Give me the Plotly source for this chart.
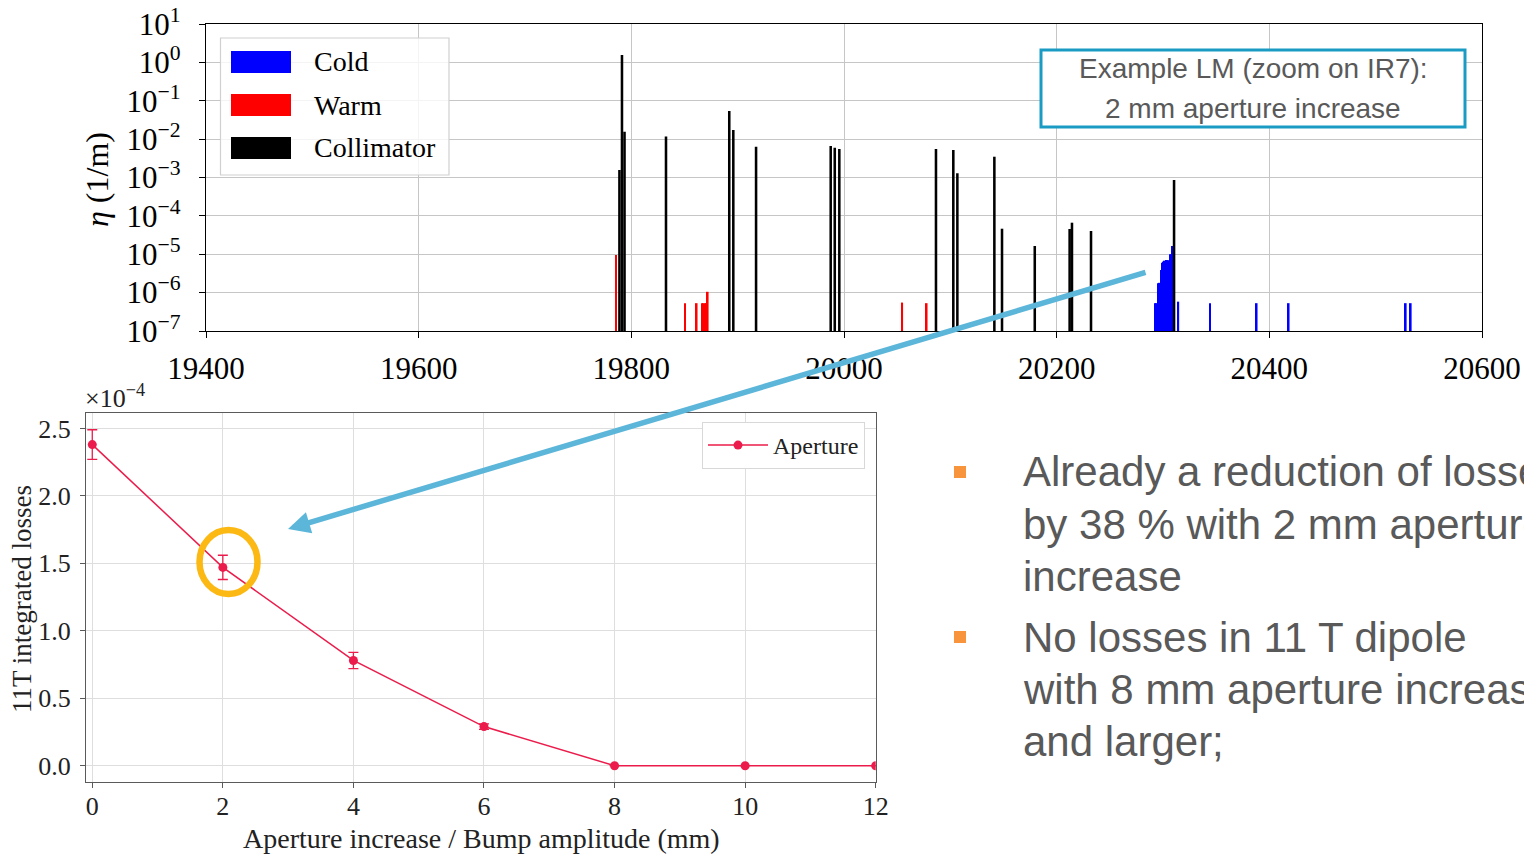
import plotly.graph_objects as go

W, H = 1524, 854

# ---------------- Top panel: loss map, zoom on IR7 ----------------
cold_s = [20293.0, 20294.2, 20295.3, 20296.5, 20298.0, 20299.4, 20300.6, 20301.6,
          20302.7, 20304.0, 20305.2, 20306.8, 20307.9, 20309.1, 20314.4,
          20344.2, 20388.1, 20418.2, 20528.3, 20533.0]
cold_eta = [5.3e-7, 5.3e-7, 1.75e-6, 1.8e-6, 3.9e-6, 6.0e-6, 6.4e-6, 6.8e-6,
            7.1e-6, 7.0e-6, 7.0e-6, 1.0e-5, 1.0e-5, 1.64e-5, 5.8e-7,
            5.3e-7, 5.3e-7, 5.3e-7, 5.3e-7, 5.3e-7]

warm_s = [19785.6, 19850.5, 19861.5, 19866.6, 19868.0, 19869.4, 19870.7, 19871.9,
          20054.8, 20077.8]
warm_eta = [9.5e-6, 5.3e-7, 5.3e-7, 5.3e-7, 5.3e-7, 5.3e-7, 5.3e-7, 1.05e-6,
            5.5e-7, 5.3e-7]

coll_s = [19788.8, 19791.2, 19793.6, 19832.6, 19892.1, 19895.9, 19917.3,
          19987.5, 19991.3, 19995.6, 20086.5, 20102.8, 20106.6, 20141.4,
          20148.6, 20179.4, 20212.2, 20214.4, 20232.3, 20310.4]
coll_eta = [1.57e-3, 1.56, 1.56e-2, 1.17e-2, 5.4e-2, 1.73e-2, 6.36e-3,
            6.62e-3, 5.98e-3, 5.53e-3, 5.53e-3, 5.21e-3, 1.29e-3, 3.48e-3,
            4.63e-5, 1.64e-5, 4.55e-5, 6.64e-5, 4.04e-5, 8.6e-4]

top_xticks = [19400, 19600, 19800, 20000, 20200, 20400, 20600]
top_xticklabels = [str(v) for v in top_xticks]
top_yticks = [1e1, 1e0, 1e-1, 1e-2, 1e-3, 1e-4, 1e-5, 1e-6, 1e-7]
top_yticklabels = ["10<sup>1</sup>", "10<sup>0</sup>", "10<sup>−1</sup>", "10<sup>−2</sup>",
                   "10<sup>−3</sup>", "10<sup>−4</sup>", "10<sup>−5</sup>",
                   "10<sup>−6</sup>", "10<sup>−7</sup>"]
legend_top = ["Cold", "Warm", "Collimator"]

# ---------------- Bottom panel: 11T integrated losses ----------------
aperture_mm = [0, 2, 4, 6, 8, 10, 12]
losses_e4 = [2.38, 1.47, 0.78, 0.29, 0.0, 0.0, 0.0]        # in units of 1e-4
losses_err_e4 = [0.11, 0.09, 0.06, 0.02, 0.0, 0.0, 0.0]
bot_xticks = [0, 2, 4, 6, 8, 10, 12]
bot_yticks = [0.0, 0.5, 1.0, 1.5, 2.0, 2.5]

bullets = [["Already a reduction of losses", "by 38 % with 2 mm aperture", "increase"],
           ["No losses in 11 T dipole", "with 8 mm aperture increase", "and larger;"]]
box_lines = ["Example LM (zoom on IR7):", "2 mm aperture increase"]

SERIF = "Liberation Serif, DejaVu Serif, serif"
SANS = "Liberation Sans, Arial, sans-serif"
BLUE, RED, BLACK = "#0000ff", "#ff0000", "#000000"
LINE_RED = "#eb1c4b"
GREY_TXT = "#595959"


def px(x):
    return x / W


def py(y):
    return 1 - y / H


fig = go.Figure()

BASE = 1e-9
fig.add_trace(go.Bar(x=cold_s, y=cold_eta, base=BASE, width=1.6, marker_color=BLUE,
                     marker_line_width=0, showlegend=False, xaxis="x", yaxis="y"))
fig.add_trace(go.Bar(x=warm_s, y=warm_eta, base=BASE, width=1.5, marker_color=RED,
                     marker_line_width=0, showlegend=False, xaxis="x", yaxis="y"))
fig.add_trace(go.Bar(x=coll_s, y=coll_eta, base=BASE, width=2.4, marker_color=BLACK,
                     marker_line_width=0, showlegend=False, xaxis="x", yaxis="y"))

fig.add_trace(go.Scatter(
    x=aperture_mm, y=losses_e4, mode="lines+markers", name="Aperture",
    line=dict(color=LINE_RED, width=1.5),
    marker=dict(color=LINE_RED, size=9),
    error_y=dict(type="data", array=losses_err_e4, visible=True, color=LINE_RED,
                 thickness=1.3, width=5),
    xaxis="x2", yaxis="y2"))

top_axis_common = dict(
    showline=True, mirror=True, linecolor="black", linewidth=1.3,
    ticks="outside", ticklen=6, tickwidth=1.3, tickcolor="black",
    showgrid=True, gridcolor="#c6c6c6", gridwidth=1.2, zeroline=False,
    tickfont=dict(family=SERIF, size=31, color="black"), automargin=False)

bot_axis_common = dict(
    showline=True, mirror=True, linecolor="#5a5a5a", linewidth=1.3,
    ticks="outside", ticklen=5, tickwidth=1.2, tickcolor="#5a5a5a",
    showgrid=True, gridcolor="#dedede", gridwidth=1, zeroline=False,
    tickfont=dict(family=SERIF, size=26, color="#222222"), automargin=False)

fig.update_layout(
    width=W, height=H, autosize=False,
    margin=dict(l=0, r=0, t=0, b=0),
    paper_bgcolor="white", plot_bgcolor="white",
    barmode="overlay",
    xaxis=dict(domain=[px(206), px(1482)], range=[19400, 20600], tickvals=top_xticks,
               ticktext=top_xticklabels, ticklabelstandoff=4, anchor="y",
               **top_axis_common),
    yaxis=dict(domain=[py(331), py(24)], type="log", range=[-7, 1], tickvals=top_yticks,
               ticktext=top_yticklabels, ticklabelstandoff=12, anchor="x", **top_axis_common),
    xaxis2=dict(domain=[px(86), px(875.7)], range=[-0.096, 12.0], tickvals=bot_xticks,
                ticklabelstandoff=-5, anchor="y2", **bot_axis_common),
    yaxis2=dict(domain=[py(782.3), py(413.3)], range=[-0.123, 2.612], tickvals=bot_yticks,
                tickformat=".1f", ticklabelstandoff=4, anchor="x2", **bot_axis_common),
    legend=dict(x=px(865), xanchor="right", y=py(422), yanchor="top",
                bgcolor="white", bordercolor="#d8d8d8", borderwidth=1, itemwidth=60,
                font=dict(family=SERIF, size=24, color="#222222")),
)

shapes = []
annotations = []

# custom legend for top panel
shapes.append(dict(type="rect", xref="paper", yref="paper",
                   x0=px(220.5), x1=px(449), y0=py(175), y1=py(38),
                   line=dict(color="#d0d0d0", width=1.2),
                   fillcolor="rgba(255,255,255,0.8)", layer="above"))
for i, (lab, col) in enumerate(zip(legend_top, [BLUE, RED, BLACK])):
    yc = 62 + i * 43
    shapes.append(dict(type="rect", xref="paper", yref="paper",
                       x0=px(231), x1=px(291), y0=py(yc + 11), y1=py(yc - 11),
                       line=dict(width=0), fillcolor=col, layer="above"))
    annotations.append(dict(text=lab, xref="paper", yref="paper", x=px(312), y=py(yc),
                            xanchor="left", yanchor="middle", showarrow=False,
                            font=dict(family=SERIF, size=28, color="black")))

# top-panel axis title
annotations.append(dict(text="<i>η</i> (1/m)", xref="paper", yref="paper",
                        x=px(97), y=py(180), textangle=-90, showarrow=False,
                        xanchor="center", yanchor="middle",
                        font=dict(family=SERIF, size=32, color="black")))

# bottom-panel axis titles and offset text
annotations.append(dict(text="Aperture increase / Bump amplitude (mm)", xref="paper",
                        yref="paper", x=px(481), y=py(838), showarrow=False,
                        xanchor="center", yanchor="middle",
                        font=dict(family=SERIF, size=28, color="#222222")))
annotations.append(dict(text="11T integrated losses", xref="paper", yref="paper",
                        x=px(22), y=py(599), textangle=-90, showarrow=False,
                        xanchor="center", yanchor="middle",
                        font=dict(family=SERIF, size=27, color="#222222")))
annotations.append(dict(text="×10<sup>−4</sup>", xref="paper", yref="paper",
                        x=px(83), y=py(415), showarrow=False,
                        xanchor="left", yanchor="bottom",
                        font=dict(family=SERIF, size=26, color="#222222")))

# boxed text at top right
shapes.append(dict(type="rect", xref="paper", yref="paper",
                   x0=px(1041), x1=px(1465), y0=py(127), y1=py(50),
                   line=dict(color="#1a9bc4", width=3), fillcolor="white", layer="above"))
for i, t in enumerate(box_lines):
    annotations.append(dict(text=t, xref="paper", yref="paper", x=px(1253), y=py(69 + 39 * i),
                            xanchor="center", yanchor="middle", showarrow=False,
                            font=dict(family=SANS, size=28, color=GREY_TXT)))

# bullet text on the right
bullet_y0 = [472, 637]
for b, lines in enumerate(bullets):
    y0 = bullet_y0[b]
    shapes.append(dict(type="rect", xref="paper", yref="paper",
                       x0=px(954), x1=px(966), y0=py(y0 + 6), y1=py(y0 - 6),
                       line=dict(width=0), fillcolor="#f7943c", layer="above"))
    for j, t in enumerate(lines):
        annotations.append(dict(text=t, xref="paper", yref="paper", x=px(1021),
                                y=py(y0 + 52 * j), xanchor="left", yanchor="middle",
                                showarrow=False,
                                font=dict(family=SANS, size=42, color=GREY_TXT)))

# highlight circle around the 2 mm point
shapes.append(dict(type="circle", xref="paper", yref="paper",
                   x0=px(199.5), x1=px(257.5), y0=py(594), y1=py(530),
                   line=dict(color="#fcb813", width=6.5), layer="above"))

# arrow from top map to bottom plot
annotations.append(dict(text="", xref="paper", yref="paper", x=px(288), y=py(529),
                        ax=1147 - 288, ay=272 - 529, axref="pixel", ayref="pixel",
                        showarrow=True, arrowhead=2, arrowsize=0.8, arrowwidth=5.5,
                        arrowcolor="#5cb6d9", startstandoff=0, standoff=0))

fig.update_layout(shapes=shapes, annotations=annotations)

fig.write_html("out.html")
